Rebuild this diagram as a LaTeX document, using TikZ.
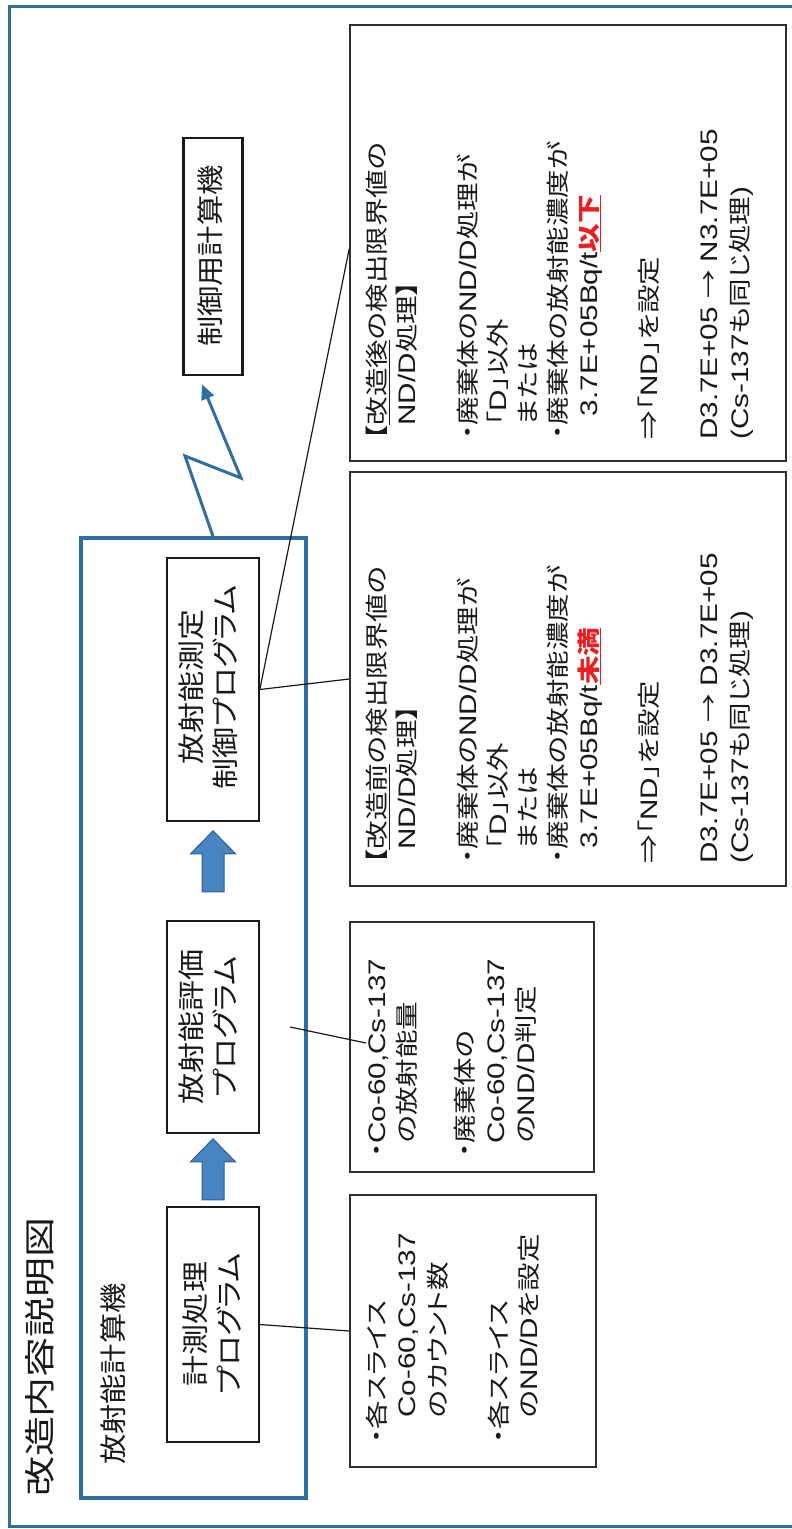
\documentclass[tikz,border=0pt]{standalone}
\usepackage{fontspec}
\setmainfont{Noto Sans CJK JP}[RawFeature={+palt}]
\newfontfamily\latfont{Liberation Sans}[Scale=1.04]
\usetikzlibrary{arrows.meta}
\definecolor{frameblue}{RGB}{47,110,160}
\definecolor{arrfill}{RGB}{72,132,192}
\definecolor{arrdraw}{RGB}{45,95,145}
\definecolor{txtred}{RGB}{235,30,35}
\definecolor{inkc}{RGB}{25,25,25}
\newcommand\latx[1]{{\latfont #1}}
\newcommand\redmark[1]{{\color{txtred}\underline{\textbf{#1}}}}
\begin{document}
\begin{tikzpicture}[x=1pt,y=-1pt,
  every node/.style={text=inkc},
  progbox/.style={draw=inkc, line width=1.6pt, inner sep=0pt},
  notebox/.style={draw=inkc!90, line width=1.6pt, inner sep=0pt},
  ptext/.style={rotate=90, xscale=1.15, inner sep=0pt, align=center, font=\fontsize{27}{34}\selectfont},
  ntext/.style={rotate=90, xscale=1.24, inner sep=0pt, align=left, anchor=north west, font=\fontsize{23}{30.2}\selectfont},
  conn/.style={draw=inkc, line width=1.2pt},
  blockarrow/.style={fill=arrfill, draw=arrdraw, line width=1pt, line join=miter},
]
\useasboundingbox (0,0) rectangle (792,1529);
\fill[white] (0,0) rectangle (792,1529);
% outer frame (right side lies beyond the page)
\draw[frameblue, line width=3pt] (792,6) -- (9,6) -- (9,1526) -- (792,1526);

% title
\node[rotate=90, xscale=1.29, inner sep=0pt, font=\fontsize{31}{36}\selectfont] (title) at (40,1357) {改造内容説明図};

% computer frame
\node[draw=frameblue, line width=3.5pt, minimum width=225pt, minimum height=960pt, inner sep=0pt] (pc) at (193.5,1018) {};
\node[rotate=90, xscale=1.12, inner sep=0pt, font=\fontsize{27}{32}\selectfont] (pclabel) at (113,1374) {放射能計算機};

% program boxes
\node[progbox, minimum width=92pt, minimum height=263pt] (meas) at (213,689.5) {};
\node[progbox, minimum width=92pt, minimum height=212pt] (eval) at (213,1027) {};
\node[progbox, minimum width=92pt, minimum height=235pt] (proc) at (213,1324.5) {};
\node[ptext] (meastext) at (208,687) {放射能測定\\制御プログラム};
\node[ptext] (evaltext) at (208,1027) {放射能評価\\プログラム};
\node[ptext] (proctext) at (212,1324) {計測処理\\プログラム};

% control computer
\node[draw=inkc, line width=2.6pt, minimum width=59pt, minimum height=237pt, inner sep=0pt] (ctl) at (213,256.5) {};
\node[rotate=90, xscale=1.12, inner sep=0pt, font=\fontsize{27}{32}\selectfont] (ctltext) at (210.5,256) {制御用計算機};

% block arrows
\coordinate (arA) at ([yshift=-9pt]meas.south);
\coordinate (arB) at ([yshift=-5pt]eval.south);
\foreach \tip in {arA,arB}{
  \path[blockarrow] (\tip) -- ++(22.5,23) -- ++(-11.5,0) -- ++(0,38) -- ++(-22,0) -- ++(0,-38) -- ++(-11.5,0) -- cycle;
}

% wireless link
\coordinate (zz0) at ([xshift=19.5pt]pc.north);
\coordinate (zz1) at (185,456);
\coordinate (zz2) at (241,478);
\coordinate (zz3) at ([xshift=-11pt,yshift=-8pt]ctl.south);
\draw[frameblue, line width=3pt, line join=miter, -{Triangle[length=15pt,width=13pt]}] (zz0) -- (zz1) -- (zz2) -- (zz3);

% note boxes
\node[notebox, minimum width=436pt, minimum height=436pt] (aft) at (568,243) {};
\node[notebox, minimum width=436pt, minimum height=414pt] (bef) at (568,679) {};
\node[notebox, minimum width=244pt, minimum height=250pt] (rad) at (472,1047) {};
\node[notebox, minimum width=246pt, minimum height=272pt] (cnt) at (473,1331) {};

\node[ntext] (afttext) at (366,440) {\vphantom{国}【\underline{改造後}の検出限界値の\\
\phantom{【}\latx{ND/D}処理】\\[30.2pt]
・廃棄体の\latx{ND/D}処理が\\
\phantom{・}「\latx{D}」以外\\
\phantom{・}または\\
・廃棄体の放射能濃度が\\
\hspace*{19pt}\latx{3.7E+05Bq/t}\redmark{以下}\\[30.2pt]
⇒「\latx{ND}」を設定\\[30.2pt]
\latx{D3.7E+05 }→\latx{ N3.7E+05}\\
\latx{(Cs-137}も同じ処理\latx{)}};

\node[ntext] (beftext) at (366,864) {\vphantom{国}【\underline{改造前}の検出限界値の\\
\phantom{【}\latx{ND/D}処理】\\[30.2pt]
・廃棄体の\latx{ND/D}処理が\\
\phantom{・}「\latx{D}」以外\\
\phantom{・}または\\
・廃棄体の放射能濃度が\\
\hspace*{12pt}\latx{3.7E+05Bq/t}\redmark{未満}\\[30.2pt]
⇒「\latx{ND}」を設定\\[30.2pt]
\latx{D3.7E+05 }→\latx{ D3.7E+05}\\
\latx{(Cs-137}も同じ処理\latx{)}};

\node[ntext] (radtext) at (367,1158) {\vphantom{国}・\latx{Co-60,Cs-137}\\
\phantom{・}の放射能量\\[28pt]
・廃棄体の\\
\phantom{・}\latx{Co-60,Cs-137}\\
\phantom{・}の\latx{ND/D}判定};

\node[ntext] (cnttext) at (366,1444) {\vphantom{国}・各スライス\\
\hspace*{21pt}\latx{Co-60,Cs-137}\\
\hspace*{21pt}のカウント数\\[31pt]
・各スライス\\
\hspace*{21pt}の\latx{ND/D}を設定};

% connectors
\draw[conn] (meas.east) -- (bef.west);
\draw[conn] (meas.east) -- ([yshift=-6pt]aft.west);
\draw[conn] (proc.east) -- (cnt.west);
\coordinate (l1) at (290,1027);
\coordinate (l2) at (366,1043);
\draw[conn] (l1) -- (l2);
\end{tikzpicture}
\end{document}
